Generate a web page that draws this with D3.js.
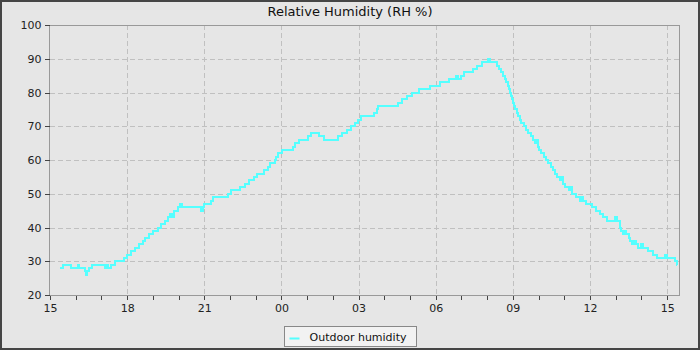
<!DOCTYPE html>
<html>
<head>
<meta charset="utf-8">
<script src="https://cdn.jsdelivr.net/npm/d3@7"></script>
<style>
  body { margin: 0; background: #454545; }
  svg { display: block; font-family: "DejaVu Sans", sans-serif; }
</style>
</head>
<body>
<div id="chart"></div>
<script>
// readings (HH:MM, rolls over past midnight)
const times = [
  "15:23","15:30","15:49","16:05","16:08","16:22","16:24","16:27","16:31","16:38",
  "17:08","17:12","17:15","17:22","17:32","17:53","18:00","18:10","18:18","18:28",
  "18:36","18:42","18:50","19:00","19:12","19:20","19:28","19:35","19:40","19:45",
  "19:50","19:58","20:03","20:08","20:53","20:57","21:00","21:16","21:20","21:56",
  "22:03","22:24","22:34","22:45","22:55","23:03","23:20","23:28","23:33","23:44",
  "23:48","23:53","00:02","00:28","00:32","00:40","01:02","01:10","01:28","01:40",
  "02:12","02:22","02:32","02:42","02:52","02:58","03:05","03:36","03:42","03:46",
  "04:32","04:42","04:52","05:05","05:22","05:47","06:10","06:30","06:48","06:52",
  "06:58","07:05","07:28","07:36","07:48","08:02","08:06","08:22","08:28","08:33",
  "08:38","08:42","08:45","08:48","08:50","08:53","08:55","08:57","09:00","09:03",
  "09:06","09:09","09:12","09:16","09:20","09:26","09:30","09:36","09:42","09:47",
  "09:52","09:55","09:58","10:02","10:06","10:12","10:18","10:22","10:28","10:34",
  "10:38","10:44","10:50","10:54","10:57","11:02","11:10","11:14","11:17","11:23",
  "11:28","11:36","11:40","11:44","11:50","11:58","12:05","12:14","12:24","12:30",
  "12:40","12:58","13:04","13:10","13:13","13:16","13:20","13:24","13:30","13:34",
  "13:38","13:43","13:47","13:52","13:58","14:03","14:15","14:22","14:28","14:36",
  "14:46","14:56","15:00","15:10","15:18","15:22","15:24"
];
const humidity = [
  28,29,28,29,28,27,26,27,28,29,
  28,29,28,29,30,31,32,33,34,35,
  36,37,38,39,40,41,42,43,44,43,
  45,46,47,46,45,46,47,48,49,50,
  51,52,53,54,55,56,57,58,59,60,
  61,62,63,64,65,66,67,68,67,66,
  67,68,69,70,71,72,73,74,75,76,
  77,78,79,80,81,82,83,84,85,84,
  85,86,87,88,89,90,89,88,87,86,
  85,84,83,82,81,80,79,78,77,76,
  75,74,73,72,71,70,69,68,67,66,
  65,66,64,63,62,61,60,59,58,57,
  56,55,54,55,53,52,51,52,50,50,
  49,48,49,48,47,47,46,45,44,43,
  42,43,42,40,39,38,39,38,37,36,
  35,36,35,34,35,34,33,33,32,31,
  31,32,31,31,30,29,29
];
const xTickLabels = ["15","18","21","00","03","06","09","12","15"];
const yTicks = [20, 30, 40, 50, 60, 70, 80, 90, 100];

const W = 700, H = 350;
const margin = { top: 25, right: 20, bottom: 55, left: 50 };

// build dates, day 0 starts 15:00
const base = new Date(2024, 0, 1, 15, 0);
let day = 0, prev = -1;
const data = times.map((t, i) => {
  const [hh, mm] = t.split(":").map(Number);
  const mins = hh * 60 + mm;
  if (prev >= 0 && mins < prev) day++;
  prev = mins;
  return { date: new Date(2024, 0, 1 + day, hh, mm), value: humidity[i] };
});

const svg = d3.select("#chart").append("svg")
  .attr("width", W).attr("height", H);

svg.append("rect").attr("width", W).attr("height", H).attr("fill", "#454545");
svg.append("rect").attr("x", 2).attr("y", 2).attr("width", W - 4).attr("height", H - 4)
  .attr("fill", "#e6e6e6");

const x = d3.scaleTime()
  .domain([base, new Date(2024, 0, 2, 15, 30)])
  .range([margin.left, W - margin.right]);
const y = d3.scaleLinear().domain([20, 100]).range([H - margin.bottom, margin.top]);

svg.append("text")
  .attr("x", W / 2).attr("y", 16)
  .attr("text-anchor", "middle")
  .attr("font-size", 13).attr("fill", "#111")
  .text("Relative Humidity (RH %)");

const majorTicks = xTickLabels.map((_, i) => d3.timeHour.offset(base, i * 3));
const minorTicks = d3.timeHour.range(base, x.domain()[1]);

// grid
const grid = svg.append("g").attr("stroke", "#c0c0c0").attr("stroke-dasharray", "5,3")
  .attr("shape-rendering", "crispEdges");
grid.selectAll(".gx").data(majorTicks.slice(1)).join("line")
  .attr("x1", d => Math.round(x(d)) + 0.5).attr("x2", d => Math.round(x(d)) + 0.5)
  .attr("y1", margin.top).attr("y2", H - margin.bottom);
grid.selectAll(".gy").data(yTicks.slice(1, -1)).join("line")
  .attr("x1", margin.left).attr("x2", W - margin.right)
  .attr("y1", d => Math.round(y(d)) + 0.5).attr("y2", d => Math.round(y(d)) + 0.5);

// plot frame
svg.append("rect")
  .attr("x", margin.left - 0.5).attr("y", margin.top + 0.5)
  .attr("width", W - margin.right - margin.left).attr("height", H - margin.bottom - margin.top)
  .attr("fill", "none").attr("stroke", "#999").attr("shape-rendering", "crispEdges");

// axes
const xAxis = svg.append("g")
  .attr("transform", `translate(0,${H - margin.bottom + 0.5})`)
  .call(d3.axisBottom(x).tickValues(minorTicks).tickSize(4).tickFormat(""));
const xLabels = svg.append("g")
  .attr("transform", `translate(0,${H - margin.bottom + 0.5})`)
  .call(d3.axisBottom(x).tickValues(majorTicks).tickSize(4)
    .tickFormat((d, i) => xTickLabels[i]));
const yAxis = svg.append("g")
  .attr("transform", `translate(${margin.left - 0.5},0)`)
  .call(d3.axisLeft(y).tickValues(yTicks).tickSize(5));

[xAxis, xLabels, yAxis].forEach(g => {
  g.select(".domain").remove();
  g.selectAll(".tick line").attr("stroke", "#444").attr("shape-rendering", "crispEdges");
  g.selectAll("text").attr("font-size", 11).attr("fill", "#222")
    .attr("font-family", "DejaVu Sans, sans-serif");
});
xLabels.selectAll("text").attr("dy", "0.85em");
yAxis.selectAll("text").attr("x", -8);

// humidity line
const line = d3.line()
  .x(d => x(d.date))
  .y(d => y(d.value))
  .curve(d3.curveStepAfter);

svg.append("path")
  .datum(data)
  .attr("fill", "none")
  .attr("stroke", "#55ffff")
  .attr("stroke-width", 2)
  .attr("shape-rendering", "crispEdges")
  .attr("d", line);

// legend
const lg = svg.append("g").attr("transform", "translate(284.5,326.5)");
lg.append("rect").attr("width", 132).attr("height", 20)
  .attr("fill", "#f2f2f2").attr("stroke", "#888");
lg.append("line").attr("x1", 5).attr("x2", 15).attr("y1", 12).attr("y2", 12)
  .attr("stroke", "#55ffff").attr("stroke-width", 2);
lg.append("text").attr("x", 25).attr("y", 14.5)
  .attr("font-size", 11).attr("fill", "#111")
  .text("Outdoor humidity");
</script>
</body>
</html>
